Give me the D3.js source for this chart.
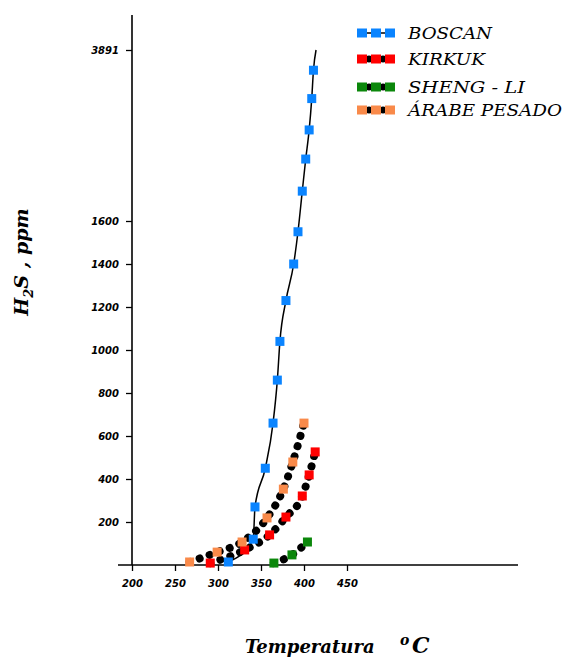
<!DOCTYPE html>
<html>
<head>
<meta charset="utf-8">
<script src="https://cdn.jsdelivr.net/npm/d3@7"></script>
<style>
  body { margin: 0; background: #fff; }
  svg { display: block; }
</style>
</head>
<body>
<div id="okvir"></div>
<script>
// [temperatura °C, H2S ppm] ocitano sa slike
const boscan = [[312, 14], [341, 120], [343, 270], [355, 450], [364, 660], [369, 860], [372, 1040],
  [379, 1230], [388, 1400], [393, 1550], [398, 2000], [402, 2430], [406, 2820], [409, 3240], [411, 3620]]
const boscanKraj = [414, 3891]
const kirkuk = [[291, 9], [331, 70], [360, 140], [379, 223], [398, 321], [406, 419], [413, 526]]
const shengli = [[365, 9], [386, 47], [404, 107]]
const arabePesado = [[267, 14], [299, 60], [328, 107], [357, 219], [376, 353], [387, 479], [400, 660]]

const xTicks = [200, 250, 300, 350, 400, 450]
const yTicks = [200, 400, 600, 800, 1000, 1200, 1400, 1600, 3891]
const serije = ["BOSCAN", "KIRKUK", "SHENG - LI", "ÁRABE PESADO"]
const boje = ["#0a84ff", "#ff0000", "#0b870b", "#f98a4a"]

const dimenzije = { sirina: 571, visina: 665 }

const okvir = d3.select("#okvir")
  .append("svg")
  .attr("width", dimenzije.sirina)
  .attr("height", dimenzije.visina)

const xSkala = d3.scaleLinear().domain([200, 450]).range([132, 347])
// prekinuta os: iznad 1600 skala je zbijena
const ySkala = d3.scaleLinear().domain([0, 1600, 3891]).range([565, 221, 50])

// osi
const xOs = okvir.append("g")
  .attr("transform", "translate(0,565)")
  .call(d3.axisBottom(xSkala).tickValues(xTicks).tickFormat(d3.format("d")).tickSize(6).tickPadding(9))
xOs.select(".domain").remove()
xOs.append("line")
  .attr("x1", 118).attr("x2", 518)
  .attr("stroke", "black").attr("stroke-width", 1.6)

const yOs = okvir.append("g")
  .attr("transform", "translate(132,0)")
  .call(d3.axisLeft(ySkala).tickValues(yTicks).tickFormat(d3.format("d")).tickSize(6).tickPadding(7))
yOs.select(".domain").remove()
yOs.append("line")
  .attr("y1", 15).attr("y2", 565)
  .attr("stroke", "black").attr("stroke-width", 1.6)

okvir.selectAll(".tick line").attr("stroke", "black").attr("stroke-width", 1.3)
okvir.selectAll(".tick text")
  .attr("fill", "black")
  .style("font-family", "DejaVu Sans")
  .style("font-weight", "bold")
  .style("font-style", "italic")
  .style("font-size", "10px")

// krivulje
const linija = d3.line()
  .x(d => xSkala(d[0]))
  .y(d => ySkala(d[1]))
  .curve(d3.curveMonotoneX)

okvir.append("path")
  .attr("d", linija(boscan.concat([boscanKraj])))
  .attr("fill", "none")
  .attr("stroke", "black")
  .attr("stroke-width", 1.5)

const tockaste = [kirkuk, shengli, arabePesado]
tockaste.forEach(podaci => {
  okvir.append("path")
    .attr("d", linija(podaci))
    .attr("fill", "none")
    .attr("stroke", "black")
    .attr("stroke-width", 8)
    .attr("stroke-linecap", "round")
    .attr("stroke-dasharray", "0.1 10.5")
})

const sveSerije = [boscan, kirkuk, shengli, arabePesado]
sveSerije.forEach((podaci, i) => {
  okvir.append("g").selectAll("rect")
    .data(podaci)
    .join("rect")
      .attr("x", d => xSkala(d[0]) - 4.5)
      .attr("y", d => ySkala(d[1]) - 4.5)
      .attr("width", 9)
      .attr("height", 9)
      .attr("fill", boje[i])
})

// legenda
const legendaY = [33, 59, 87, 110]
const duljine = [84, 77, 117, 154]
const legenda = okvir.append("g")
serije.forEach((ime, i) => {
  const red = legenda.append("g").attr("transform", `translate(0,${legendaY[i]})`)
  if (i === 0) {
    red.append("line").attr("x1", 357).attr("x2", 395)
      .attr("stroke", "black").attr("stroke-width", 1.5)
  } else {
    red.selectAll("circle")
      .data([369, 383])
      .join("circle")
        .attr("cx", d => d)
        .attr("r", 3.5)
        .attr("fill", "black")
  }
  red.selectAll("rect")
    .data([362, 376, 390])
    .join("rect")
      .attr("x", d => d - 5)
      .attr("y", -4.5)
      .attr("width", 10)
      .attr("height", 9)
      .attr("fill", boje[i])
  red.append("text")
    .attr("x", 408)
    .attr("y", 6)
    .attr("textLength", duljine[i])
    .attr("lengthAdjust", "spacingAndGlyphs")
    .style("font-family", "DejaVu Serif")
    .style("font-style", "italic")
    .style("font-size", "16px")
    .text(ime)
})

// oznake osi
const yOznaka = okvir.append("text")
  .attr("transform", "translate(28,262) rotate(-90)")
  .attr("text-anchor", "middle")
  .style("font-family", "DejaVu Serif")
  .style("font-weight", "bold")
  .style("font-style", "italic")
  .style("font-size", "19px")
yOznaka.append("tspan").text("H")
yOznaka.append("tspan").attr("dy", 5).style("font-size", "13px").text("2")
yOznaka.append("tspan").attr("dy", -5).text("S  ,  ppm")

const xOznaka = okvir.append("text")
  .attr("x", 245)
  .attr("y", 653)
  .style("font-family", "DejaVu Serif")
  .style("font-weight", "bold")
  .style("font-style", "italic")
  .style("font-size", "18px")
xOznaka.append("tspan").text("Temperatura")
xOznaka.append("tspan").attr("x", 400).attr("dy", -8).style("font-size", "14px").text("o")
xOznaka.append("tspan").attr("x", 412).attr("dy", 8).style("font-size", "22px").text("C")
</script>
</body>
</html>
